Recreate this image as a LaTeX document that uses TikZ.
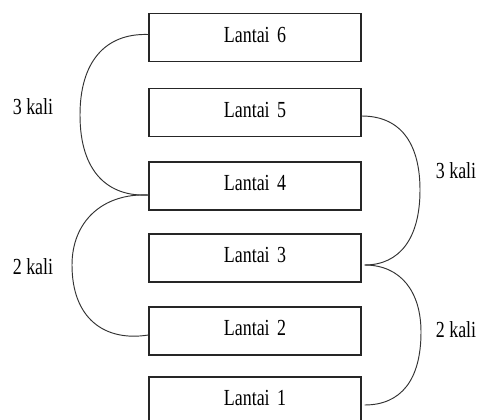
\documentclass[tikz,border=0pt]{standalone}
\usepackage{fontspec}
\setmainfont{Liberation Serif}
\newcommand{\narrowtext}[1]{\scalebox{0.78}[1]{#1}}
\tikzset{
  floorbox/.style={draw=black!85, line width=1.1pt, minimum width=212pt, minimum height=48pt,
    inner sep=0pt, font=\fontsize{23}{23}\selectfont},
  floortext/.style={font=\fontsize{23}{23}\selectfont, inner sep=0pt},
  countlabel/.style={font=\fontsize{23}{23}\selectfont, inner sep=0pt},
  loopline/.style={draw=black!80, line width=0.95pt},
}
\begin{document}
\begin{tikzpicture}[x=1pt, y=-1pt]
  \useasboundingbox (0,0) rectangle (477,420);
  \clip (0,0) rectangle (477,420);

  % floors
  \node[floorbox] (f6) at (255,37.5) {};
  \node[floorbox] (f5) at (255,112.5) {};
  \node[floorbox] (f4) at (255,186) {};
  \node[floorbox] (f3) at (255,258) {};
  \node[floorbox] (f2) at (255,331) {};
  \node[floorbox] (f1) at (255,401) {};

  % floor names, set a little above the box centres
  \foreach \n in {6,5,4,3,2,1}
    \node[floortext] (t\n) at ([yshift=3pt]f\n.center) {\narrowtext{Lantai\, \n}};

  % attachment points on the box sides
  \coordinate (l6) at ([yshift=3pt]f6.west);
  \coordinate (l4) at ([yshift=-9pt]f4.west);
  \coordinate (l2) at ([yshift=-4pt]f2.west);
  \coordinate (r5) at ([yshift=-3.5pt]f5.east);
  \coordinate (r3) at ([xshift=3pt,yshift=-7pt]f3.east);
  \coordinate (r1) at ([xshift=3pt,yshift=-4pt]f1.east);

  % left loops
  \path[loopline] (l6) .. controls (105,33) and (80,62) .. (80,115)
                       .. controls (80,172) and (108,197) .. (l4);
  \path[loopline] (l4) .. controls (102,193) and (72,222) .. (72,265)
                       .. controls (72,318) and (104,342) .. (l2);

  % right loops
  \path[loopline] (r5) .. controls (404,116) and (420,148) .. (420,190)
                       .. controls (420,238) and (400,265) .. (r3);
  \path[loopline] (r3) .. controls (401,265) and (421,292) .. (421,332)
                       .. controls (421,380) and (401,405) .. (r1);

  % loop labels
  \node[countlabel] (c1) at (33,107) {\narrowtext{3 kali}};
  \node[countlabel] (c2) at (33,267) {\narrowtext{2 kali}};
  \node[countlabel] (c3) at (456,171) {\narrowtext{3 kali}};
  \node[countlabel] (c4) at (456,330) {\narrowtext{2 kali}};
\end{tikzpicture}
\end{document}
